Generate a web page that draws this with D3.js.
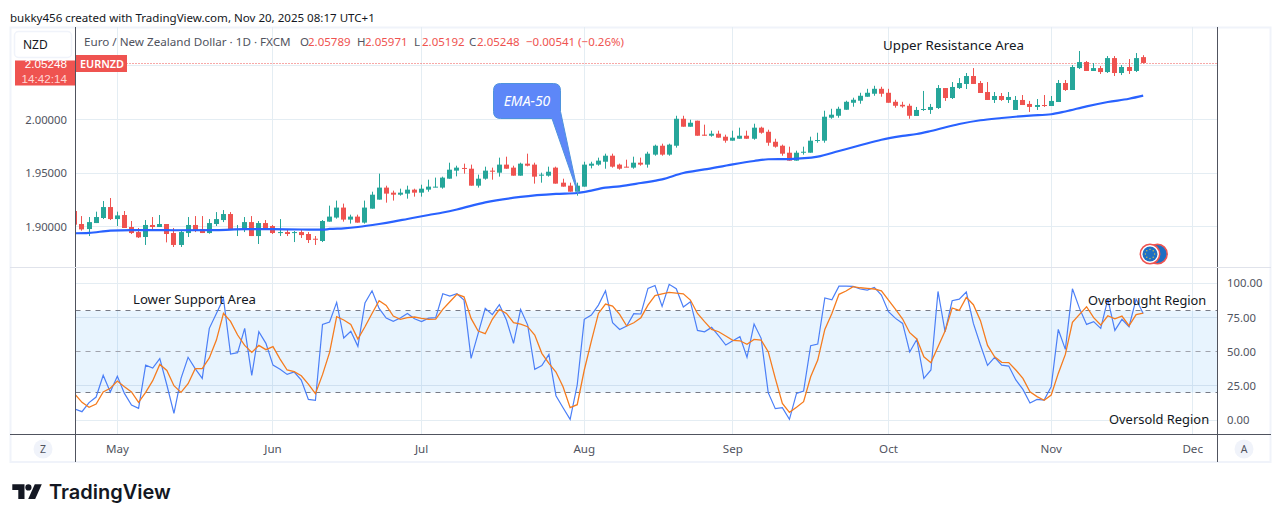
<!DOCTYPE html>
<html><head><meta charset="utf-8">
<script src="https://cdn.jsdelivr.net/npm/d3@7/dist/d3.min.js"></script>
<style>html,body{margin:0;padding:0;background:#fff}svg{display:block}text{font-family:"Noto Sans","Open Sans",sans-serif}</style>
</head><body><svg id="c" width="1281" height="522"></svg>
<script>
const barOpen=[1.9146,1.9025,1.8978,1.9034,1.9081,1.9183,1.9071,1.9109,1.8997,1.8950,
1.8904,1.9016,1.8997,1.9025,1.8941,1.8830,1.8941,1.9016,1.8978,1.8941,
1.9025,1.9062,1.9118,1.8969,1.8969,1.9043,1.8913,1.9034,1.9006,1.8944,
1.8950,1.8947,1.8950,1.8932,1.8888,1.8867,1.9047,1.9085,1.9178,1.9066,
1.9094,1.9038,1.9168,1.9252,1.9364,1.9317,1.9298,1.9308,1.9345,1.9317,
1.9345,1.9367,1.9364,1.9447,1.9522,1.9547,1.9540,1.9382,1.9447,1.9522,
1.9503,1.9578,1.9550,1.9475,1.9587,1.9578,1.9475,1.9475,1.9550,1.9410,
1.9382,1.9326,1.9373,1.9568,1.9578,1.9605,1.9661,1.9578,1.9559,1.9550,
1.9596,1.9578,1.9671,1.9754,1.9671,1.9754,2.0005,1.9931,1.9987,1.9857,
1.9847,1.9866,1.9838,1.9801,1.9819,1.9847,1.9819,1.9922,1.9884,1.9791,
1.9754,1.9689,1.9615,1.9692,1.9689,1.9801,1.9801,2.0015,2.0033,2.0089,
2.0154,2.0173,2.0210,2.0238,2.0284,2.0247,2.0163,2.0135,2.0126,2.0031,
2.0087,2.0087,2.0105,2.0291,2.0198,2.0291,2.0329,2.0403,2.0338,2.0254,
2.0180,2.0217,2.0180,2.0087,2.0180,2.0143,2.0115,2.0133,2.0124,2.0161,
2.0338,2.0273,2.0477,2.0533,2.0450,2.0477,2.0440,2.0570,2.0431,2.0487,
2.0450,2.05789];
const barHigh=[1.9146,1.9099,1.9090,1.9140,1.9239,1.9267,1.9140,1.9146,1.9053,1.8988,
1.9062,1.9090,1.9109,1.9025,1.8988,1.8969,1.9090,1.9099,1.9099,1.9071,
1.9136,1.9155,1.9136,1.9016,1.9090,1.9099,1.9053,1.9062,1.9016,1.9071,
1.8978,1.8960,1.8978,1.8950,1.8913,1.9062,1.9196,1.9243,1.9215,1.9112,
1.9112,1.9243,1.9326,1.9494,1.9382,1.9336,1.9354,1.9382,1.9354,1.9391,
1.9438,1.9457,1.9466,1.9596,1.9568,1.9587,1.9578,1.9485,1.9559,1.9550,
1.9643,1.9652,1.9568,1.9596,1.9680,1.9596,1.9503,1.9559,1.9559,1.9447,
1.9410,1.9410,1.9605,1.9605,1.9643,1.9680,1.9680,1.9587,1.9624,1.9652,
1.9643,1.9698,1.9764,1.9773,1.9773,2.0033,2.0033,1.9996,1.9987,1.9950,
1.9894,1.9894,1.9857,1.9894,1.9922,1.9894,1.9959,1.9931,1.9903,1.9819,
1.9764,1.9745,1.9708,1.9745,1.9838,1.9875,2.0080,2.0098,2.0117,2.0173,
2.0201,2.0247,2.0284,2.0312,2.0303,2.0284,2.0182,2.0163,2.0145,2.0115,
2.0264,2.0143,2.0319,2.0291,2.0347,2.0384,2.0431,2.0477,2.0357,2.0347,
2.0254,2.0245,2.0254,2.0217,2.0226,2.0171,2.0189,2.0226,2.0217,2.0366,
2.0366,2.0505,2.0636,2.0543,2.0524,2.0496,2.0589,2.0589,2.0505,2.0561,
2.0617,2.05971];
const barLow=[1.9019,1.8963,1.8913,1.9034,1.9071,1.9062,1.9006,1.8988,1.8932,1.8895,
1.8830,1.8960,1.8997,1.8854,1.8811,1.8811,1.8904,1.8950,1.8941,1.8935,
1.9006,1.9043,1.8969,1.8913,1.8950,1.8913,1.8839,1.8978,1.8932,1.8913,
1.8913,1.8857,1.8895,1.8848,1.8830,1.8857,1.9047,1.9075,1.9047,1.9029,
1.9038,1.9029,1.9168,1.9252,1.9224,1.9243,1.9289,1.9261,1.9280,1.9280,
1.9326,1.9367,1.9354,1.9447,1.9469,1.9494,1.9382,1.9364,1.9438,1.9438,
1.9466,1.9540,1.9475,1.9475,1.9562,1.9401,1.9410,1.9466,1.9401,1.9373,
1.9326,1.9289,1.9373,1.9543,1.9568,1.9540,1.9550,1.9531,1.9553,1.9540,
1.9568,1.9550,1.9661,1.9661,1.9661,1.9736,1.9931,1.9931,1.9847,1.9847,
1.9838,1.9829,1.9782,1.9801,1.9819,1.9819,1.9810,1.9866,1.9754,1.9736,
1.9661,1.9615,1.9615,1.9671,1.9689,1.9782,1.9782,2.0005,2.0015,2.0089,
2.0117,2.0145,2.0210,2.0219,2.0210,2.0154,2.0108,2.0108,2.0005,2.0031,
2.0078,2.0050,2.0096,2.0171,2.0189,2.0282,2.0282,2.0329,2.0245,2.0180,
2.0152,2.0171,2.0152,2.0087,2.0133,2.0068,2.0087,2.0115,2.0124,2.0161,
2.0264,2.0273,2.0468,2.0450,2.0450,2.0422,2.0431,2.0403,2.0412,2.0422,
2.0440,2.05192];
const barClose=[1.9019,1.8975,1.9043,1.9090,1.9183,1.9071,1.9105,1.8988,1.8941,1.8901,
1.9016,1.8997,1.9025,1.8932,1.8830,1.8950,1.9016,1.8969,1.8941,1.9034,
1.9071,1.9118,1.8969,1.8978,1.9043,1.8913,1.9034,1.8988,1.8941,1.8950,
1.8932,1.8950,1.8922,1.8876,1.8882,1.9053,1.9094,1.9178,1.9066,1.9094,
1.9038,1.9178,1.9298,1.9364,1.9308,1.9298,1.9317,1.9345,1.9317,1.9354,
1.9373,1.9373,1.9457,1.9531,1.9550,1.9543,1.9382,1.9447,1.9522,1.9512,
1.9578,1.9540,1.9475,1.9587,1.9568,1.9466,1.9485,1.9512,1.9401,1.9373,
1.9326,1.9382,1.9578,1.9587,1.9615,1.9661,1.9559,1.9540,1.9553,1.9596,
1.9578,1.9680,1.9754,1.9671,1.9764,2.0005,1.9931,1.9968,1.9847,1.9847,
1.9866,1.9829,1.9801,1.9829,1.9847,1.9819,1.9922,1.9875,1.9782,1.9745,
1.9680,1.9615,1.9689,1.9698,1.9801,1.9807,2.0024,2.0043,2.0098,2.0163,
2.0182,2.0219,2.0247,2.0284,2.0238,2.0154,2.0126,2.0120,2.0033,2.0087,
2.0096,2.0115,2.0291,2.0198,2.0301,2.0338,2.0403,2.0329,2.0245,2.0180,
2.0217,2.0180,2.0208,2.0180,2.0133,2.0115,2.0133,2.0124,2.0171,2.0338,
2.0273,2.0487,2.0533,2.0450,2.0477,2.0440,2.0570,2.0431,2.0487,2.0450,
2.0570,2.05248];
const emaBars=[0,2,5,8,14,20,24,27,32,35,36,38,40,43,45,47,50,52,54,58,63,68,71,72,75,77,80,83,86,89,93,96,98,101,105,108,111,114,117,119,121,125,128,131,135,138,140,143,146,149,151];
const emaValues=[1.8939,1.8943,1.8963,1.8969,1.8967,1.8968,1.8977,1.8977,1.8974,1.8972,1.8979,1.8985,1.8997,1.9025,1.9047,1.9072,1.9109,1.9132,1.9160,1.9227,1.9277,1.9305,1.9314,1.9323,1.9363,1.9376,1.9407,1.9441,1.9500,1.9533,1.9581,1.9612,1.9628,1.9630,1.9652,1.9705,1.9758,1.9810,1.9845,1.9863,1.9891,1.9956,1.9991,2.0012,2.0035,2.0047,2.0073,2.0121,2.0161,2.0191,2.0220];
const stochK=[8.0,6.1,12.7,16.8,32.7,20.5,32.0,19.5,11.0,8.5,
40.2,38.0,44.9,25.6,4.9,30.5,45.9,37.6,30.5,67.1,
78.0,89.0,48.3,49.3,67.1,32.7,64.6,56.1,40.2,37.1,
33.4,35.1,29.3,15.1,14.4,70.0,71.7,86.1,60.0,64.9,
53.9,85.6,94.6,81.7,74.6,72.2,74.6,78.0,74.1,72.0,
74.6,74.9,92.4,90.7,92.4,87.8,45.1,63.4,81.7,77.1,
84.4,73.2,56.1,81.0,69.5,37.1,39.8,48.0,17.8,9.0,
0.5,25.6,73.7,76.8,84.1,94.6,71.2,66.3,68.8,77.8,
77.6,96.3,98.5,83.2,99.3,96.1,82.7,86.6,65.6,64.6,
67.8,61.5,54.9,58.0,61.0,45.9,70.2,59.8,20.0,8.3,
9.0,0.5,19.5,21.2,54.4,55.6,89.3,88.0,98.0,98.0,
97.8,95.9,95.1,97.1,91.5,79.3,74.4,70.7,49.8,59.0,
30.5,36.6,94.1,64.6,87.3,88.5,93.7,70.7,54.9,40.0,
45.9,40.2,39.5,29.3,22.4,12.4,15.1,14.6,24.4,66.3,
51.7,96.1,81.7,70.0,72.0,67.1,88.5,65.6,73.7,68.3,
88.5,78.0];
const stochD=[19.0,12.9,9.3,11.7,20.5,23.2,28.5,24.4,20.5,12.9,
20.2,28.8,40.7,36.3,25.1,20.2,26.6,37.6,37.6,45.4,
58.5,78.0,72.2,62.2,54.6,49.5,54.6,51.5,53.7,44.6,
36.6,35.4,32.4,26.3,19.3,33.2,49.5,75.6,73.2,70.0,
59.3,68.3,78.0,87.3,83.9,76.1,73.7,74.9,75.4,74.4,
73.7,73.9,81.0,86.6,92.0,90.2,74.4,65.1,63.2,73.7,
81.0,78.0,71.2,70.2,68.3,62.2,48.8,41.5,35.1,24.4,
9.0,11.2,36.6,57.8,78.0,84.9,83.4,77.3,68.8,71.2,
74.9,84.1,91.0,92.4,93.4,92.9,92.4,87.8,78.0,72.0,
66.3,64.6,61.5,58.3,58.0,55.4,59.0,58.5,50.0,30.5,
12.2,5.6,9.3,13.4,31.7,43.9,66.3,78.0,92.0,94.4,
97.6,96.8,96.3,95.9,94.6,87.8,81.0,73.9,63.9,59.3,
46.3,42.0,53.7,65.1,82.0,80.2,89.8,84.4,72.7,54.6,
46.3,42.2,42.0,36.6,30.5,20.7,17.1,14.4,18.3,34.1,
48.0,71.5,77.3,82.9,74.9,69.5,76.3,74.1,76.1,69.0,
77.1,78.3];
const priceTicks=[2.0,1.95,1.9];
const priceGrid=[2.05,2.0,1.95,1.9];
const oscTicks=[100,75,50,25,0];
const oscGrid=[100,75,25,0];
const monthLabels=["May","Jun","Jul","Aug","Sep","Oct","Nov","Dec"];
const monthBars=[6,28,49,72,93,115,138,158];
const lastPrice=2.05248;
const emaLabelBar=71;

const svg=d3.select("#c");
const L=75.5,R=1217.5,T=27,B=462,MID=267.5,AX=434.5;
const x=d3.scaleLinear().domain([0,158]).range([74.9,1192.7]);
const y=d3.scaleLinear().domain([1.9,2.0]).range([226.7,119.3]);
const o=d3.scaleLinear().domain([0,100]).range([420,283.4]);
const TXT="#131722",AXC="#50535e",GRID="#e4edf3",UP="#26a69a",DN="#ef5350";
const snap=v=>Math.floor(v)+.5;

svg.append("rect").attr("width",1281).attr("height",522).attr("fill","#fff");
const defs=svg.append("defs");
defs.append("clipPath").attr("id","topClip").append("rect").attr("x",L).attr("y",T).attr("width",R-L).attr("height",MID-T);
defs.append("clipPath").attr("id","botClip").append("rect").attr("x",L).attr("y",MID).attr("width",R-L).attr("height",AX-MID);

// frame
svg.append("rect").attr("x",10.5).attr("y",27.5).attr("width",1260).attr("height",434.5).attr("fill","none").attr("stroke","#f0f3fa").attr("stroke-width",2);

// grids
svg.append("g").selectAll("line").data(monthBars).join("line")
 .attr("x1",d=>snap(x(d))).attr("x2",d=>snap(x(d))).attr("y1",T).attr("y2",AX).attr("stroke",GRID);
svg.append("g").selectAll("line").data(priceGrid).join("line")
 .attr("x1",L).attr("x2",R).attr("y1",d=>snap(y(d))).attr("y2",d=>snap(y(d))).attr("stroke",GRID);

// oscillator band
const botPane=svg.append("g").attr("clip-path","url(#botClip)");
botPane.append("rect").attr("x",L).attr("width",R-L).attr("y",o(80)).attr("height",o(20)-o(80)).attr("fill","#2196f3").attr("fill-opacity",.1);
botPane.append("g").selectAll("line").data(oscGrid).join("line")
 .attr("x1",L).attr("x2",R).attr("y1",d=>snap(o(d))).attr("y2",d=>snap(o(d))).attr("stroke",d=>d==75||d==25?"#cfe0f0":GRID);
botPane.append("g").selectAll("line").data([80,50,20]).join("line")
 .attr("x1",L).attr("x2",R).attr("y1",d=>snap(o(d))).attr("y2",d=>snap(o(d)))
 .attr("stroke",d=>d==50?"#a0a3ad":"#787b86").attr("stroke-dasharray","5 5").attr("stroke-width",1.1);
const lineOsc=d3.line().x((d,i)=>x(i)).y(d=>o(d));
botPane.append("path").attr("d",lineOsc(stochK)).attr("fill","none").attr("stroke","#4b7ff7").attr("stroke-width",1.2);
botPane.append("path").attr("d",lineOsc(stochD)).attr("fill","none").attr("stroke","#f57c1f").attr("stroke-width",1.3);

// price pane
const topPane=svg.append("g").attr("clip-path","url(#topClip)");
topPane.append("line").attr("x1",L).attr("x2",R).attr("y1",Math.round(y(lastPrice))+.5).attr("y2",Math.round(y(lastPrice))+.5)
 .attr("stroke",DN).attr("stroke-dasharray","1 2");
const candles=topPane.append("g").selectAll("g").data(barOpen.map((d,i)=>i)).join("g");
const col=i=>barClose[i]>=barOpen[i]?UP:DN;
candles.append("line").attr("x1",i=>snap(x(i))).attr("x2",i=>snap(x(i)))
 .attr("y1",i=>y(barHigh[i])).attr("y2",i=>y(barLow[i])).attr("stroke",col);
candles.append("rect").attr("x",i=>snap(x(i))-2.5).attr("width",5)
 .attr("y",i=>y(Math.max(barOpen[i],barClose[i])))
 .attr("height",i=>Math.max(1,Math.abs(y(barOpen[i])-y(barClose[i])))).attr("fill",col);
topPane.append("path").attr("d",d3.line().curve(d3.curveMonotoneX).x(d=>x(d[0])).y(d=>y(d[1]))(emaBars.map((b,i)=>[b,emaValues[i]])))
 .attr("fill","none").attr("stroke","#2962ff").attr("stroke-width",2.2);

// callout
const tipX=x(emaLabelBar)+1,tipY=y(emaValues[emaBars.indexOf(emaLabelBar)])+1;
const bx=493.5,by=83.5,bw=67,bh=35,r=7;
svg.append("path").attr("d",`M${bx+r},${by}H${bx+bw-r}Q${bx+bw},${by} ${bx+bw},${by+r}V${by+bh-r}L${tipX},${tipY}L${bx+bw-8.5},${by+bh}H${bx+r}Q${bx},${by+bh} ${bx},${by+bh-r}V${by+r}Q${bx},${by} ${bx+r},${by}Z`)
 .attr("fill","#5d87f8").attr("stroke","#4e93dd");
svg.append("text").attr("x",bx+bw/2).attr("y",by+bh/2+5).attr("text-anchor","middle").attr("font-size",14).attr("font-style","italic").attr("fill","#fff").text("EMA-50");

// flag icon
const fl=svg.append("g");
fl.append("circle").attr("cx",1157.5).attr("cy",254).attr("r",9.7).attr("fill","#1e6fc2").attr("stroke",DN).attr("stroke-width",1.5);
fl.append("circle").attr("cx",1150).attr("cy",254).attr("r",9.7).attr("fill","#fff").attr("stroke",DN).attr("stroke-width",1.5);
fl.append("circle").attr("cx",1150).attr("cy",254).attr("r",7.5).attr("fill","#1e6fc2");
fl.selectAll("rect").data(d3.range(8)).join("rect").attr("width",1.2).attr("height",1.2).attr("fill","#d9c34a")
 .attr("x",d=>1149.4+4.6*Math.cos(d*Math.PI/4)).attr("y",d=>253.4+4.6*Math.sin(d*Math.PI/4));

// axis borders
svg.append("line").attr("x1",L).attr("x2",L).attr("y1",T).attr("y2",B).attr("stroke",AXC).attr("stroke-width",1);
svg.append("line").attr("x1",R).attr("x2",R).attr("y1",T).attr("y2",B).attr("stroke",AXC).attr("stroke-width",1);
svg.append("line").attr("x1",10).attr("x2",1271).attr("y1",MID).attr("y2",MID).attr("stroke","#e0e3eb");
svg.append("line").attr("x1",10).attr("x2",1271).attr("y1",AX).attr("y2",AX).attr("stroke",AXC);

// axis labels
svg.append("g").selectAll("text").data(priceTicks).join("text").attr("x",67).attr("y",d=>y(d)+4.3)
 .attr("text-anchor","end").attr("font-size",11.3).attr("fill",AXC).text(d=>d3.format(".5f")(d));
svg.append("g").selectAll("text").data(oscTicks).join("text").attr("x",1227).attr("y",d=>o(d)+4)
 .attr("font-size",11.3).attr("fill",AXC).text(d=>d3.format(".2f")(d));
svg.append("g").selectAll("text").data(monthLabels).join("text").attr("x",(d,i)=>x(monthBars[i])).attr("y",452.5)
 .attr("text-anchor","middle").attr("font-size",11.6).attr("fill",AXC).text(d=>d);

// left price label
svg.append("rect").attr("x",15).attr("y",60.5).attr("width",60).attr("height",25).attr("fill",DN);
svg.append("text").attr("x",67).attr("y",68).attr("text-anchor","end").attr("font-size",11.7).style("font-family","'Liberation Sans',sans-serif").attr("fill","#fff").text("2.05248");
svg.append("text").attr("x",67).attr("y",82.5).attr("text-anchor","end").attr("font-size",11.7).style("font-family","'Liberation Sans',sans-serif").attr("fill","#ffd5d3").text("14:42:14");
// NZD button
svg.append("rect").attr("x",14.5).attr("y",31.5).attr("width",57).attr("height",26).attr("rx",4).attr("fill","#fff").attr("stroke","#f0f3fa").attr("stroke-width",1.5);
svg.append("text").attr("x",23).attr("y",49).attr("font-size",12).attr("fill",TXT).text("NZD");
// symbol tag
svg.append("rect").attr("x",76).attr("y",55).attr("width",51).attr("height",17).attr("fill",DN);
svg.append("text").attr("x",80).attr("y",67.5).attr("font-size",10.9).attr("font-weight",600).attr("fill","#fff").text("EURNZD");

// header
svg.append("text").attr("x",10).attr("y",22).attr("font-size",11.55).attr("fill",TXT).text("bukky456 created with TradingView.com, Nov 20, 2025 08:17 UTC+1");
svg.append("text").attr("x",84).attr("y",46).attr("font-size",11.65).attr("fill",AXC).text("Euro / New Zealand Dollar · 1D · FXCM");
[["O","2.05789",300],["H","2.05971",357],["L","2.05192",414],["C","2.05248",469]].forEach(([k,v,px])=>{
  svg.append("text").attr("x",px).attr("y",46).attr("font-size",11.5).attr("fill",AXC).text(k);
  svg.append("text").attr("x",px+8).attr("y",46).attr("font-size",11.5).attr("fill",DN).text(v);
});
svg.append("text").attr("x",526).attr("y",46).attr("font-size",11.5).attr("fill",DN).text("−0.00541 (−0.26%)");

// annotations
[["Upper Resistance Area",883,50,13.3],["Lower Support Area",133,304,13.2],["Overbought Region",1088,305,12.8],["Oversold Region",1109,424,12.9]].forEach(([t,px,py,fs])=>{
  svg.append("text").attr("x",px).attr("y",py).attr("font-size",fs).attr("fill",TXT).text(t);
});

// bottom buttons
[["Z",43],["A",1244]].forEach(([t,cx])=>{
  svg.append("circle").attr("cx",cx).attr("cy",449).attr("r",9.5).attr("fill","#f0f3fa");
  svg.append("text").attr("x",cx).attr("y",453).attr("text-anchor","middle").attr("font-size",10.5).attr("fill",AXC).text(t);
});

// logo
const lg=svg.append("g").attr("fill","#131722");
lg.append("path").attr("d","M12.3 484.3H24.5V499H18.3V490H12.3Z");
lg.append("circle").attr("cx",28.4).attr("cy",487.4).attr("r",3.1);
lg.append("path").attr("d","M34.8 484.3H41.8L35.2 499H28.2Z");
svg.append("text").attr("x",49).attr("y",499).style("font-family","Inter,Roboto,sans-serif").attr("font-size",20).attr("font-weight",600).attr("fill","#131722").text("TradingView");
</script></body></html>
